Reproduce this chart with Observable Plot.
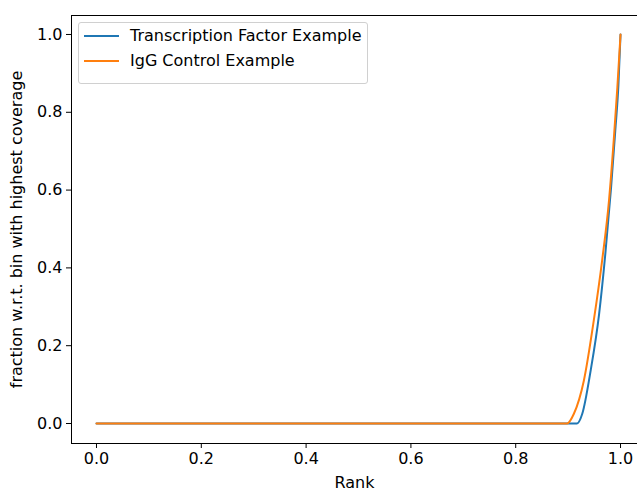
<!DOCTYPE html>
<html>
<head>
<meta charset="utf-8">
<script src="https://cdn.jsdelivr.net/npm/d3@7"></script>
<script src="https://cdn.jsdelivr.net/npm/@observablehq/plot@0.6"></script>
<style>
  html, body { margin: 0; padding: 0; background: #fff; }
  #wrap { position: relative; width: 637px; height: 490px; font-family: "DejaVu Sans", sans-serif; }
  #legend { position: absolute; left: 78px; top: 22px; width: 290px; height: 62px;
    border: 1px solid #d0d0d0; border-radius: 3px; background: rgba(255,255,255,0.8);
    box-sizing: border-box; font-size: 16px; color: #000; }
  .item { position: absolute; left: 0; height: 20px; }
  .swatch { position: absolute; left: 5px; width: 35px; height: 0; border-top: 2px solid; }
  .lbl { position: absolute; left: 51px; white-space: nowrap; line-height: 20px; }
</style>
</head>
<body>
<div id="wrap"></div>
<script>
const seriesNames = ["Transcription Factor Example", "IgG Control Example"];
const seriesColors = ["#1f77b4", "#ff7f0e"];

const tfRank  = [0, 0.917, 0.927, 0.943, 0.959, 0.971, 0.982, 0.990, 0.996, 1.0];
const tfValue = [0, 0,     0.025, 0.136, 0.280, 0.436, 0.607, 0.753, 0.870, 1.0];

const igRank  = [0, 0.898, 0.911, 0.930, 0.949, 0.965, 0.978, 0.987, 0.994, 1.0];
const igValue = [0, 0,     0.025, 0.110, 0.265, 0.420, 0.573, 0.727, 0.865, 1.0];

const xTicks = [0, 0.2, 0.4, 0.6, 0.8, 1.0];
const yTicks = [0, 0.2, 0.4, 0.6, 0.8, 1.0];

const data = [
  ...tfRank.map((r, i) => ({series: seriesNames[0], rank: r, value: tfValue[i]})),
  ...igRank.map((r, i) => ({series: seriesNames[1], rank: r, value: igValue[i]}))
];

const fmt = d3.format(".1f");

const chart = Plot.plot({
  width: 637,
  height: 490,
  marginLeft: 71,
  marginRight: 0,
  marginTop: 15,
  marginBottom: 47,
  style: { fontFamily: "DejaVu Sans, sans-serif", fontSize: "16px", color: "#000", background: "#fff" },
  x: { domain: [-0.0477, 1.0324], ticks: xTicks, tickFormat: fmt },
  y: { domain: [-0.0514, 1.0488], ticks: yTicks, tickFormat: fmt },
  color: { domain: seriesNames, range: seriesColors },
  marks: [
    Plot.frame({ stroke: "#000", strokeWidth: 1 }),
    Plot.axisX({ ticks: xTicks, tickFormat: fmt, tickSize: 5, tickPadding: 4, fontSize: 16,
      label: "Rank", labelAnchor: "center", labelArrow: "none", labelOffset: 44 }),
    Plot.axisY({ ticks: yTicks, tickFormat: fmt, tickSize: 5, tickPadding: 4, fontSize: 16,
      label: "fraction w.r.t. bin with highest coverage", labelAnchor: "center", labelArrow: "none", labelOffset: 61 }),
    Plot.line(data, { x: "rank", y: "value", stroke: "series", strokeWidth: 2, curve: "monotone-x" })
  ]
});

const wrap = document.getElementById("wrap");
wrap.appendChild(chart);

const legend = document.createElement("div");
legend.id = "legend";
seriesNames.forEach((name, i) => {
  const item = document.createElement("div");
  item.className = "item";
  item.style.top = (3 + i * 25) + "px";
  const sw = document.createElement("div");
  sw.className = "swatch";
  sw.style.borderTopColor = seriesColors[i];
  sw.style.top = "9px";
  const lb = document.createElement("div");
  lb.className = "lbl";
  lb.textContent = name;
  item.appendChild(sw);
  item.appendChild(lb);
  legend.appendChild(item);
});
wrap.appendChild(legend);
</script>
</body>
</html>
